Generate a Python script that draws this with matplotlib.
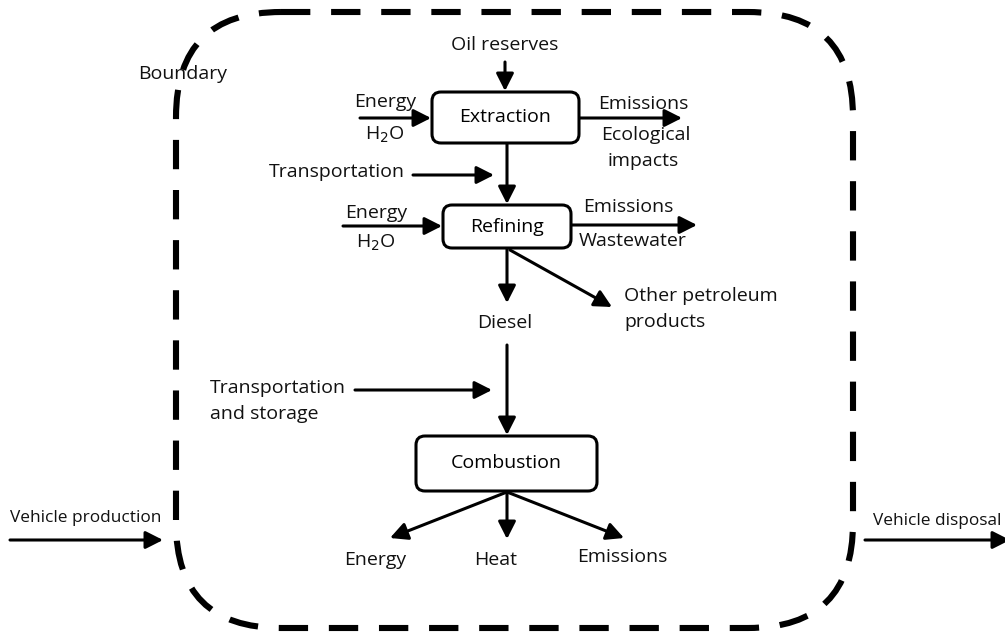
import matplotlib
matplotlib.use('Agg')
import matplotlib.pyplot as plt
from matplotlib.patches import FancyBboxPatch, FancyArrowPatch

plt.rcParams['font.family'] = ['Open Sans', 'DejaVu Sans']

# process boxes: label, (x0, y0, x1, y1) in pixel coords
box_labels = ['Extraction', 'Refining', 'Combustion']
box_rects = [(432, 92, 579, 143), (443, 205, 571, 248), (416, 436, 597, 491)]

# arrows: start -> end
arrows = [
    ((505, 62), (505, 91)),      # oil reserves
    ((360, 118), (431, 118)),    # energy in (extraction)
    ((580, 118), (682, 118)),    # emissions out
    ((413, 175), (494, 175)),    # transportation
    ((507, 143), (507, 204)),    # extraction -> refining
    ((343, 226), (442, 226)),    # energy in (refining)
    ((572, 225), (697, 225)),    # emissions out
    ((507, 248), (507, 303)),    # diesel
    ((510, 250), (612, 307)),    # other products
    ((355, 390), (492, 390)),    # transportation and storage
    ((507, 345), (507, 435)),    # diesel -> combustion
    ((507, 492), (390, 538)),    # energy
    ((507, 492), (507, 539)),    # heat
    ((507, 492), (624, 538)),    # emissions
    ((10, 540), (163, 540)),     # vehicle production
    ((865, 540), (1010, 540)),   # vehicle disposal
]

# text labels: text, x, y, horizontal alignment, size
labels = [
    ('Oil reserves', 505, 45, 'center', 14),
    ('Energy', 385, 102, 'center', 14),
    ('H$_2$O', 385, 135, 'center', 14),
    ('Emissions', 643, 104, 'center', 14),
    ('Ecological', 646, 135, 'center', 14),
    ('impacts', 643, 161, 'center', 14),
    ('Transportation', 337, 172, 'center', 14),
    ('Energy', 376, 213, 'center', 14),
    ('H$_2$O', 376, 243, 'center', 14),
    ('Emissions', 628, 207, 'center', 14),
    ('Wastewater', 633, 241, 'center', 14),
    ('Diesel', 505, 323, 'center', 14),
    ('Other petroleum', 624, 296, 'left', 14),
    ('products', 624, 322, 'left', 14),
    ('Transportation', 210, 388, 'left', 14),
    ('and storage', 210, 414, 'left', 14),
    ('Energy', 375, 560, 'center', 14),
    ('Heat', 496, 560, 'center', 14),
    ('Emissions', 622, 557, 'center', 14),
    ('Boundary', 138, 74, 'left', 14),
    ('Vehicle production', 10, 518, 'left', 12.4),
    ('Vehicle disposal', 873, 521, 'left', 12.4),
]

fig = plt.figure(figsize=(10.05, 6.34), dpi=100)
ax = fig.add_axes([0, 0, 1, 1])
ax.set_xlim(0, 1005)
ax.set_ylim(634, 0)
ax.axis('off')

# dashed system boundary
bound = FancyBboxPatch((176, 12), 853 - 176, 628 - 12,
                       boxstyle='round,pad=0,rounding_size=105',
                       fill=False, lw=4.4, ec='black',
                       linestyle=(0, (4.8, 3.4)), capstyle='butt')
ax.add_patch(bound)

for lab, (x0, y0, x1, y1) in zip(box_labels, box_rects):
    ax.add_patch(FancyBboxPatch((x0, y0), x1 - x0, y1 - y0,
                                boxstyle='round,pad=0,rounding_size=9',
                                fill=True, fc='white', lw=2.2, ec='black', zorder=3))
    ax.text((x0 + x1) / 2, (y0 + y1) / 2, lab, ha='center', va='center',
            fontsize=14, zorder=4)

for s, e in arrows:
    ax.add_patch(FancyArrowPatch(s, e, arrowstyle='-|>,head_length=0.75,head_width=0.38',
                                 mutation_scale=14, lw=2.2, color='black',
                                 shrinkA=0, shrinkB=0, zorder=2))

for txt, x, y, ha, fs in labels:
    ax.text(x, y, txt, ha=ha, va='center', fontsize=fs, color='#111111')

fig.savefig('out.png', dpi=100)
